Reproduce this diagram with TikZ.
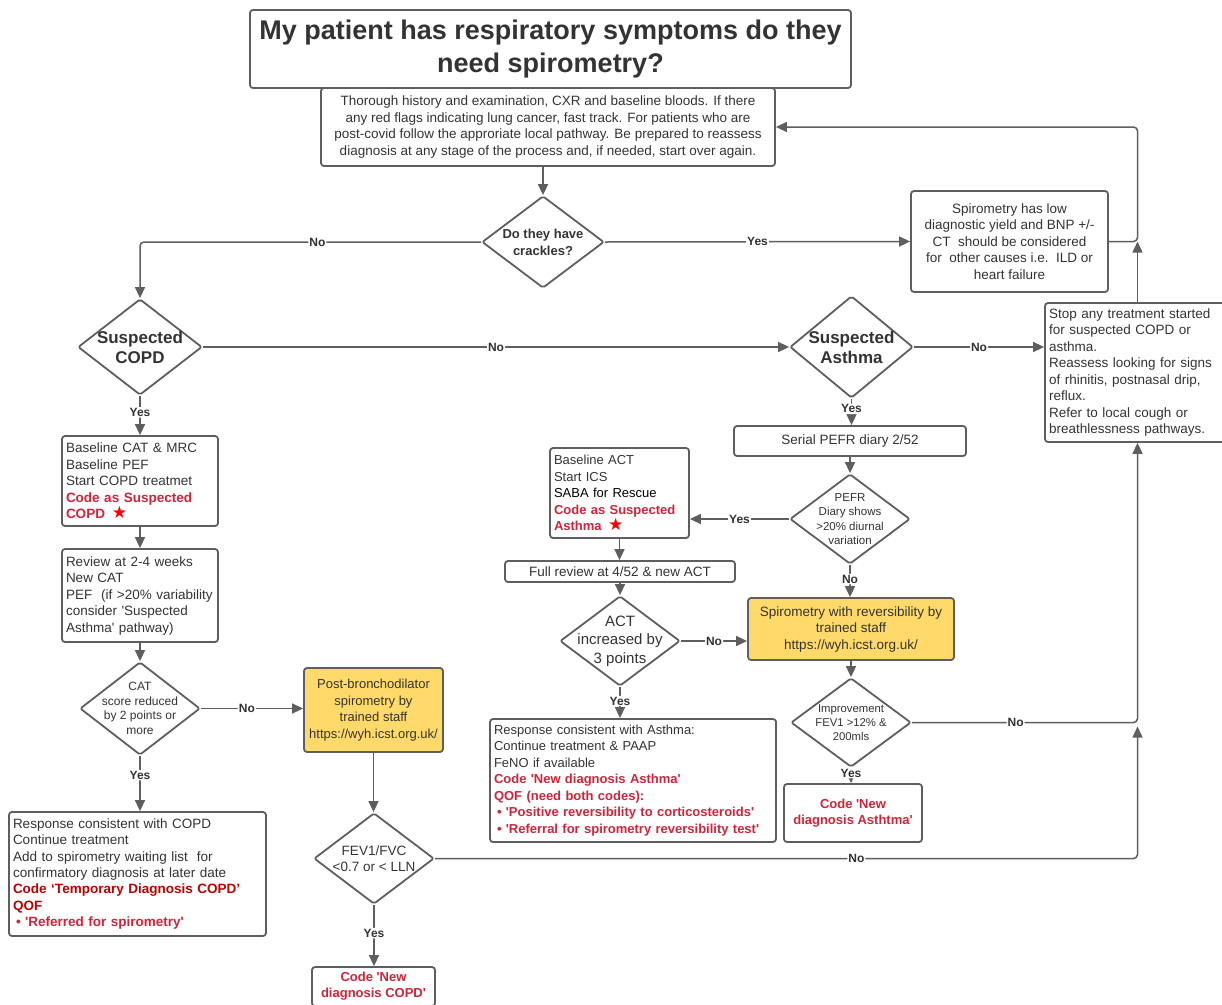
\documentclass[tikz,border=0pt]{standalone}
\usepackage{fontspec}
\setmainfont{Liberation Sans}
\newfontfamily\starfont{DejaVu Sans}
\usetikzlibrary{shapes.geometric,arrows.meta}
\definecolor{linegray}{HTML}{5E5E5E}
\definecolor{txt}{HTML}{333333}
\definecolor{boxgold}{HTML}{FFDA6B}
\definecolor{codered}{HTML}{D0243A}
\definecolor{darkred}{HTML}{C00000}
\newcommand{\codetxt}[1]{\textcolor{codered}{\bfseries #1}}
\newcommand{\redstar}{\textcolor{red}{\starfont\fontsize{17}{16}\selectfont ★}}
\newcommand{\sq}{\textquotesingle}
\tikzset{
  box/.style={draw=linegray, line width=1.8pt, rounded corners=3pt, fill=white,
    inner sep=4pt, align=center, text=txt},
  lbox/.style={box, align=left},
  gold/.style={box, fill=boxgold, inner sep=2pt},
  dia/.style={diamond, draw=linegray, line width=1.8pt, rounded corners=2pt,
    fill=white, inner sep=-14pt, align=center, text=txt},
  flow/.style={draw=linegray, line width=1.5pt, rounded corners=4pt},
  flowarr/.style={flow, -{Triangle[length=11pt,width=10pt]}},
  lab/.style={fill=white, inner sep=1pt, text=txt,
    font=\bfseries\fontsize{12}{14}\selectfont},
}
\begin{document}
\begin{tikzpicture}[x=1pt, y=-1pt, font=\fontsize{13.5}{16.5}\selectfont, line join=round]
\useasboundingbox (0,0) rectangle (1222,1004);
% top
\node[box, minimum width=454, minimum height=78] (intro) at (548,127)
  {Thorough history and examination, CXR and baseline bloods. If there\\
   any red flags indicating lung cancer, fast track. For patients who are\\
   post-covid follow the approriate local pathway. Be prepared to reassess\\
   diagnosis at any stage of the process and, if needed, start over again.};
\node[box, minimum width=601, minimum height=78, font=\bfseries\fontsize{27}{33}\selectfont] (title) at (550.5,49)
  {My patient has respiratory symptoms do they\\need spirometry?};
\node[dia, minimum width=122, minimum height=92, font=\bfseries\fontsize{13}{17}\selectfont] (crack) at (543,242)
  {Do they have\\crackles?};
\node[box, minimum width=197, minimum height=101] (lowyield) at (1009.5,241.5)
  {Spirometry has low\\diagnostic yield and BNP +/-\\CT\ \ should be considered\\for\ \ other causes i.e.\ \ ILD or\\heart failure};
\node[dia, minimum width=124, minimum height=96, font=\bfseries\fontsize{17}{20}\selectfont] (copd) at (140,347)
  {Suspected\\COPD};
\node[dia, minimum width=123, minimum height=102, font=\bfseries\fontsize{17}{20}\selectfont] (asthma) at (851.5,347)
  {Suspected\\Asthma};
\node[lbox, minimum width=185, minimum height=139, text width=177] (stop) at (1137.5,372.5)
  {Stop any treatment started\\for suspected COPD or\\asthma.\\Reassess looking for signs\\of rhinitis, postnasal drip,\\reflux.\\Refer to local cough or\\breathlessness pathways.};
% COPD side
\node[lbox, minimum width=156, minimum height=90, text width=148] (catbox) at (140,481)
  {Baseline CAT \& MRC\\Baseline PEF\\Start COPD treatmet\\\codetxt{Code as Suspected}\\\codetxt{COPD}\enspace\redstar};
\node[lbox, minimum width=156, minimum height=93, text width=148] (review) at (140,595.5)
  {Review at 2-4 weeks\\New CAT\\PEF\ \ (if >20\% variability\\consider \sq Suspected\\Asthma\sq{} pathway)};
\node[dia, minimum width=120, minimum height=93, font=\fontsize{12}{14.5}\selectfont] (catdia) at (140,708.5)
  {CAT\\score reduced\\by 2 points or\\more};
\node[gold, minimum width=139, minimum height=84, font=\fontsize{13}{16.5}\selectfont] (postbd) at (373.5,710)
  {Post-bronchodilator\\spirometry by\\trained staff\\https://wyh.icst.org.uk/};
\node[lbox, minimum width=257, minimum height=124, text width=249, font=\fontsize{13.5}{16.4}\selectfont] (respcopd) at (137.5,874)
  {Response consistent with COPD\\Continue treatment\\Add to spirometry waiting list\ \ for\\confirmatory diagnosis at later date\\
   \textcolor{darkred}{\bfseries Code ‘Temporary Diagnosis COPD’}\\\textcolor{darkred}{\bfseries QOF}\\
   \hspace*{3pt}\codetxt{• \sq Referred for spirometry\sq}};
\node[dia, minimum width=120, minimum height=91, font=\fontsize{13.5}{16}\selectfont] (fev) at (374,858.5)
  {FEV1/FVC\\<0.7 or < LLN};
\node[box, minimum width=123, minimum height=39, text=codered, font=\bfseries\fontsize{13}{16}\selectfont] (newcopd) at (373.5,986.5)
  {Code \sq New\\diagnosis COPD\sq};
% asthma side
\node[box, minimum width=232, minimum height=30] (pefrbox) at (850,441) {Serial PEFR diary 2/52};
\node[dia, minimum width=120, minimum height=90, font=\fontsize{11.5}{14.5}\selectfont] (pefrdia) at (850,519)
  {PEFR\\Diary shows\\>20\% diurnal\\variation};
\node[lbox, minimum width=139, minimum height=90, text width=131, font=\fontsize{13}{16.5}\selectfont] (actbox) at (619.5,493)
  {Baseline ACT\\Start ICS\\\textcolor{black}{SABA for Rescue}\\\codetxt{Code as Suspected}\\\codetxt{Asthma}\enspace\redstar};
\node[box, minimum width=230, minimum height=21, inner sep=2pt] (fullrev) at (620,571.5) {Full review at 4/52 \& new ACT};
\node[dia, minimum width=120, minimum height=90, font=\fontsize{15}{18.5}\selectfont] (actdia) at (620,641)
  {ACT\\increased by\\3 points};
\node[gold, minimum width=206, minimum height=62, font=\fontsize{13.5}{16.5}\selectfont] (revbox) at (851,629)
  {Spirometry with reversibility by\\trained staff\\https://wyh.icst.org.uk/};
\node[dia, minimum width=120, minimum height=89, font=\fontsize{11.3}{14}\selectfont] (impr) at (851,722.5)
  {Improvement\\FEV1 >12\% \&\\200mls};
\node[box, minimum width=138, minimum height=58, text=codered, font=\bfseries\fontsize{13}{16}\selectfont] (newasth) at (853,813)
  {Code \sq New\\diagnosis Asthtma\sq};
\node[lbox, minimum width=286, minimum height=123, text width=278, font=\fontsize{13}{16.5}\selectfont] (respasth) at (633,780.5)
  {Response consistent with Asthma:\\Continue treatment \& PAAP\\FeNO if available\\\codetxt{Code \sq New diagnosis Asthma\sq}\\\codetxt{QOF (need both codes):}\\
   \hspace*{3pt}\codetxt{• \sq Positive reversibility to corticosteroids\sq}\\
   \hspace*{3pt}\codetxt{• \sq Referral for spirometry reversibility test\sq}};
% connectors
\coordinate (loop) at (stop.north |- lowyield.east);
\coordinate (impc) at (stop.south |- impr.east);
\draw[flowarr] (crack.north |- intro.south) -- (crack.north);
\draw[flowarr] (crack.west) -| node[lab,pos=0.24]{No} (copd.north);
\draw[flowarr] (crack.east) -- node[lab]{Yes} (lowyield.west);
\draw[flowarr] (lowyield.east) -- (loop) |- (intro.east);
\draw[flowarr] (stop.north) -- (loop);
\draw[flowarr] (copd.east) -- node[lab]{No} (asthma.west);
\draw[flowarr] (asthma.east) -- node[lab]{No} (asthma.east -| stop.west);
\draw[flowarr] (copd.south) -- node[lab,pos=0.42]{Yes} (catbox.north);
\draw[flowarr] (catbox.south) -- (review.north);
\draw[flowarr] (review.south) -- (catdia.north);
\draw[flowarr] (catdia.east) -- node[lab,pos=0.45]{No} (catdia.east -| postbd.west);
\draw[flowarr] (catdia.south) -- node[lab,pos=0.35]{Yes} (catdia.south |- respcopd.north);
\draw[flowarr] (postbd.south) -- (postbd.south |- fev.north);
\draw[flowarr] (fev.south) -- node[lab,pos=0.46]{Yes} (fev.south |- newcopd.north);
\draw[flowarr] (fev.east) -| node[lab,pos=0.3]{No} ([yshift=-4pt]impc);
\draw[flowarr] (impr.east) -- node[lab,pos=0.46]{No} (impc) -- (stop.south);
\draw[flowarr] (asthma.south) -- node[lab,pos=0.38]{Yes} (asthma.south |- pefrbox.north);
\draw[flowarr] (pefrbox.south) -- (pefrdia.north);
\draw[flowarr] (pefrdia.west) -- node[lab]{Yes} (pefrdia.west -| actbox.east);
\draw[flowarr] (actbox.south) -- (actbox.south |- fullrev.north);
\draw[flowarr] (fullrev.south) -- (actdia.north);
\draw[flowarr] (actdia.east) -- node[lab]{No} (actdia.east -| revbox.west);
\draw[flowarr] (pefrdia.south) -- node[lab,pos=0.44]{No} (pefrdia.south |- revbox.north);
\draw[flowarr] (revbox.south) -- (impr.north);
\draw[flowarr] (impr.south) -- node[lab,pos=0.35]{Yes} (impr.south |- newasth.north);
\draw[flowarr] (actdia.south) -- node[lab,pos=0.45]{Yes} (actdia.south |- respasth.north);
\end{tikzpicture}
\end{document}
